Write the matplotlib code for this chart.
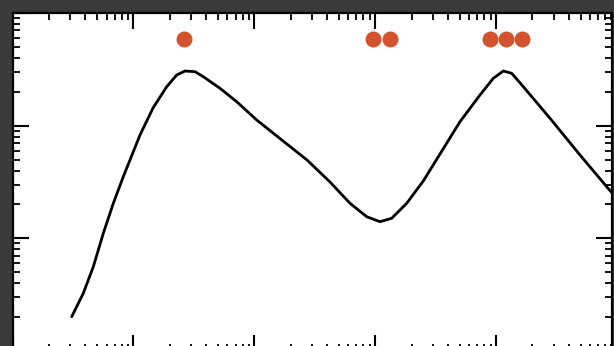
import numpy as np
import matplotlib
matplotlib.use("Agg")
import matplotlib.pyplot as plt

# curve (log-log axes, no labels)
curve_x = [0.3089, 0.3851, 0.4661, 0.5638, 0.6822, 0.8249, 1.134, 1.453, 1.886, 2.281,
           2.672, 3.233, 3.786, 5.203, 7.153, 10.47, 14.28, 27.29, 42.28, 61.88,
           85.05, 109.6, 136.9, 182.2, 249.9, 343.6, 502.8, 736.1, 948.1, 1147,
           1346, 1679, 2791, 4942, 8218, 9737]
curve_y = [0.2016, 0.3252, 0.5603, 1.109, 2.046, 3.525, 8.263, 14.35, 22.18, 28.17,
           30.57, 30.13, 27.21, 21.46, 16.32, 11.23, 8.609, 4.958, 3.163, 2.046,
           1.556, 1.405, 1.506, 2.046, 3.228, 5.606, 10.85, 18.72, 26.33, 30.57,
           29.15, 22.18, 11.63, 5.491, 2.872, 2.327]

# red markers along the top
dot_x = [2.62, 95.9, 132.6, 890, 1207, 1638]
dot_y = [58.4, 58.4, 58.4, 58.4, 58.4, 58.4]

fig = plt.figure(figsize=(6.14, 3.46), dpi=100, facecolor="#3a3a3a")
ax = fig.add_axes([12.5 / 614, 1 - 351 / 346, 599.5 / 614, 338 / 346])
ax.set_facecolor("white")
ax.set_xscale("log")
ax.set_yscale("log")
ax.set_xlim(0.1, 10 ** (-1 + 599.5 / 120.9))
ax.set_ylim(0.1, 100)

ax.plot(curve_x, curve_y, color="black", lw=2.0,
        solid_capstyle="round", solid_joinstyle="round")
ax.plot(dot_x, dot_y, "o", color="#d4532f", markersize=11.5, markeredgewidth=0)

for s in ax.spines.values():
    s.set_linewidth(1.6)
    s.set_color("black")

ax.tick_params(which="both", direction="in", top=True, right=True,
               labelleft=False, labelbottom=False, color="black")
ax.tick_params(which="major", length=11.5, width=1.5)
ax.tick_params(which="minor", length=5, width=1.3)

fig.savefig("out.png", dpi=100, facecolor=fig.get_facecolor())
